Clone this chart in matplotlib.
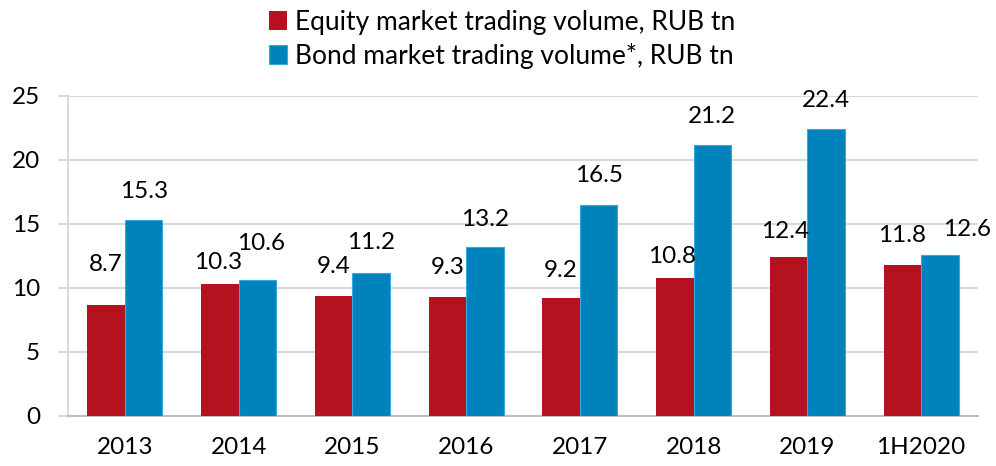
import numpy as np
import matplotlib.pyplot as plt

plt.rcParams['font.family'] = ['Lato', 'DejaVu Sans']

years = ['2013', '2014', '2015', '2016', '2017', '2018', '2019', '1H2020']
equity = [8.7, 10.3, 9.4, 9.3, 9.2, 10.8, 12.4, 11.8]
bonds = [15.3, 10.6, 11.2, 13.2, 16.5, 21.2, 22.4, 12.6]

# label nudges in pixels (dx, dy above the bar top)
equity_off = [(0, 40), (-2, 22), (0, 29), (0, 29), (0, 28), (-3, 21), (-3, 26), (0, 29)]
bonds_off = [(0, 29), (4, 37), (0, 30), (0, 28), (0, 29), (0, 28), (0, 29), (27, 25)]

red = '#B5111F'
blue = '#0082BC'
grid_c = '#D9D9D9'
fs = 17.5

fig = plt.figure(figsize=(9.96, 4.66), dpi=100)
ax = fig.add_axes([68 / 996, 50 / 466, 910 / 996, 320 / 466])

x = np.arange(len(years))
w = 0.33
b1 = ax.bar(x - w / 2, equity, w, color=red, label='Equity market trading volume, RUB tn', zorder=3)
b2 = ax.bar(x + w / 2, bonds, w, color=blue, edgecolor='#39A8DA', linewidth=0.8,
            label='Bond market trading volume*, RUB tn', zorder=3)

for bars, vals, offs in [(b1, equity, equity_off), (b2, bonds, bonds_off)]:
    for r, v, (dx, dy) in zip(bars, vals, offs):
        ax.annotate(f'{v:.1f}', (r.get_x() + r.get_width() / 2, v),
                    xytext=(dx, dy), textcoords='offset pixels',
                    ha='center', va='center', fontsize=fs, color='black')

ax.set_xlim(-0.5, len(years) - 0.5)
ax.set_ylim(0, 25)
ax.set_yticks([0, 5, 10, 15, 20, 25])
ax.set_xticks(x)
ax.set_xticklabels(years)
ax.grid(axis='y', color=grid_c, linewidth=1.5, zorder=0)
ax.tick_params(axis='y', length=7, width=1.5, color=grid_c, pad=13, labelsize=fs)
ax.tick_params(axis='x', length=0, pad=15, labelsize=fs)
for s in ['top', 'right']:
    ax.spines[s].set_visible(False)
ax.spines['left'].set_color(grid_c)
ax.spines['left'].set_linewidth(1.5)
ax.spines['bottom'].set_color('#BFBFBF')
ax.spines['bottom'].set_linewidth(1.5)

fig.legend(handles=[b1, b2], loc='center', bbox_to_anchor=(0.504, 0.916),
           frameon=False, fontsize=19, handlelength=0.7, handleheight=0.7,
           handletextpad=0.3, labelspacing=0.3, borderpad=0)

fig.savefig('out.png', dpi=100)
